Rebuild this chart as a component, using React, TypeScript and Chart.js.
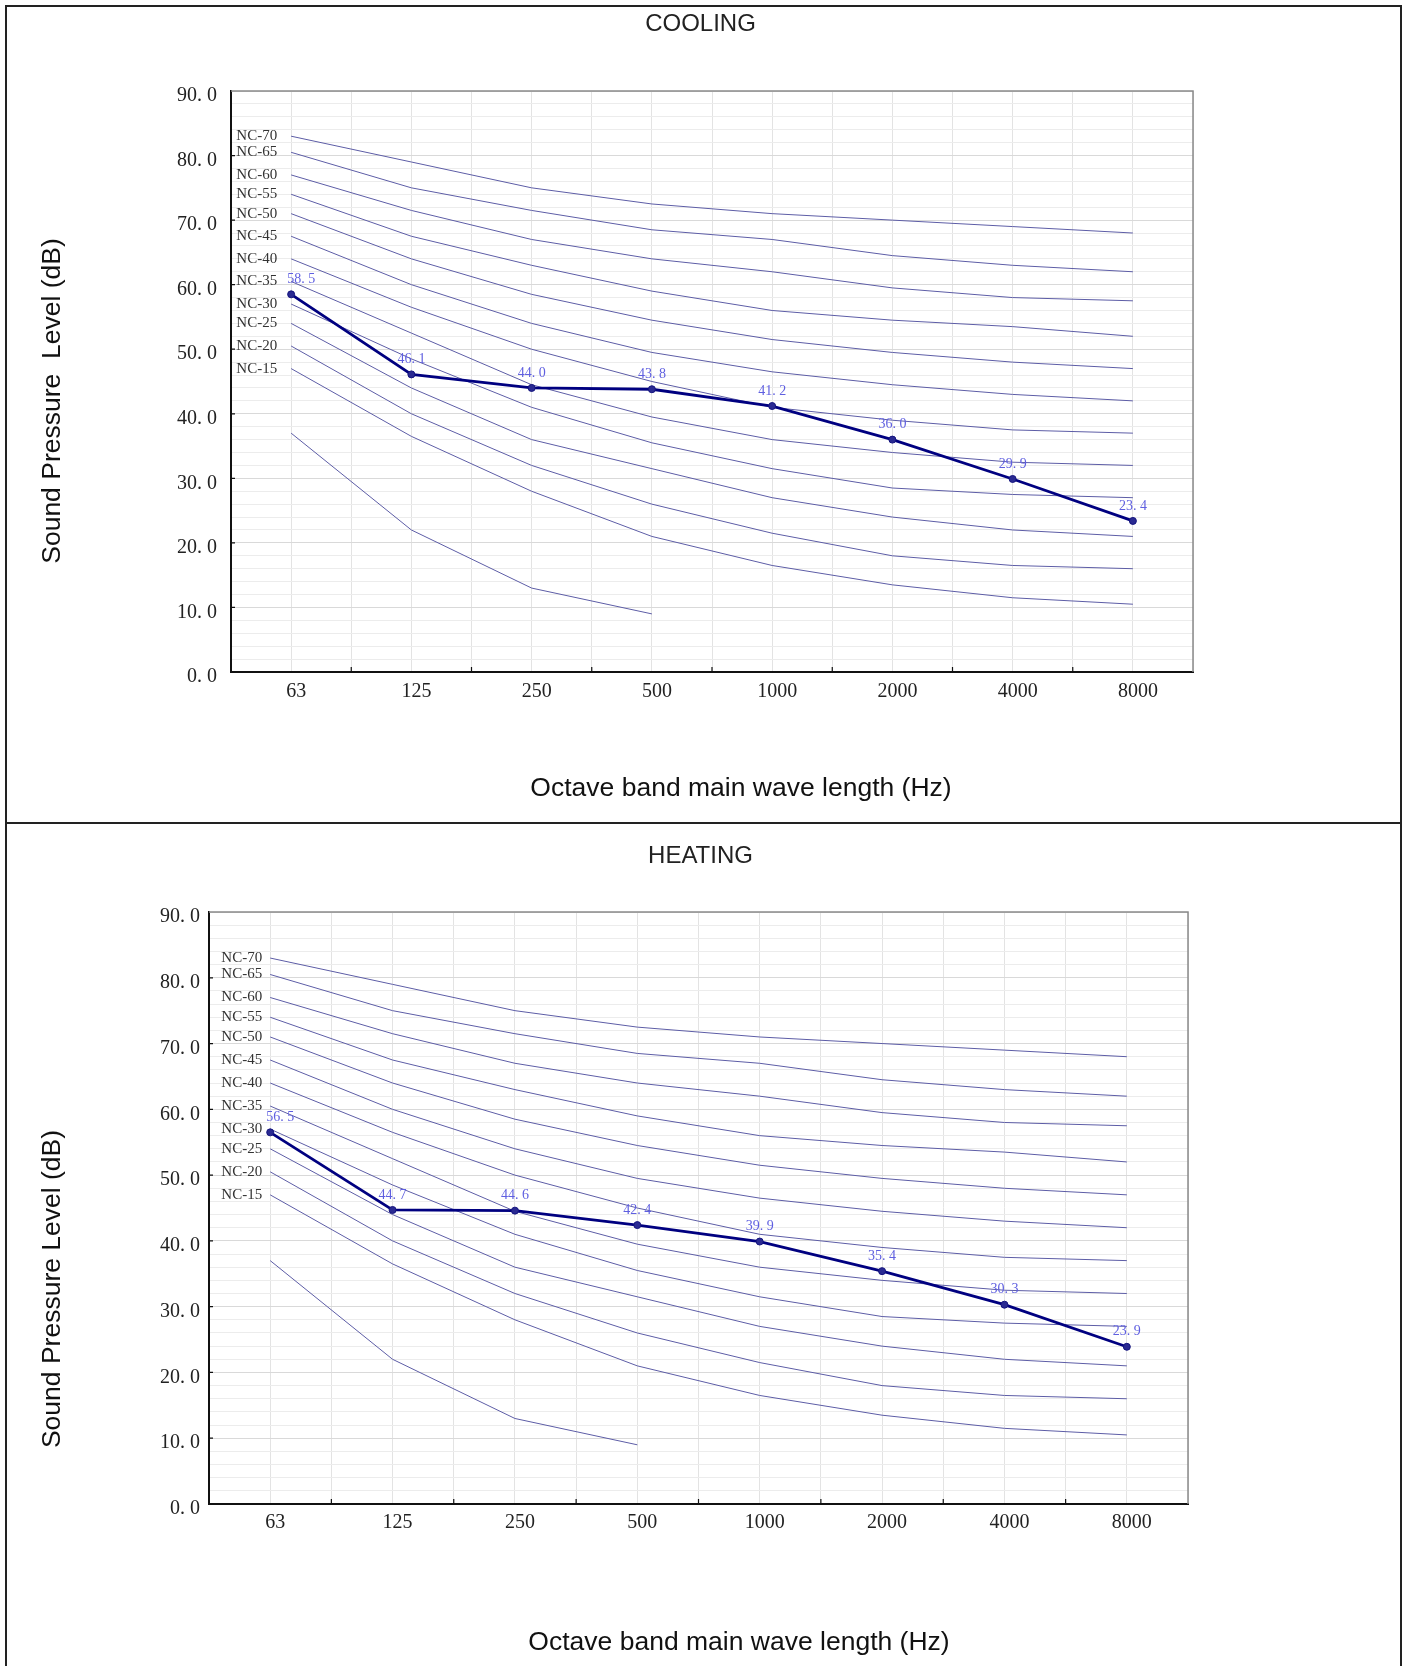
import React, { useEffect, useRef } from 'react';
import { Chart, registerables } from 'chart.js';

Chart.register(...registerables);

// ---------- data ----------
const FREQ_LABELS = ['63', '125', '250', '500', '1000', '2000', '4000', '8000'];
const Y_LABELS = ['0. 0', '10. 0', '20. 0', '30. 0', '40. 0', '50. 0', '60. 0', '70. 0', '80. 0', '90. 0'];

const NC_NAMES = ['NC-70', 'NC-65', 'NC-60', 'NC-55', 'NC-50', 'NC-45', 'NC-40', 'NC-35', 'NC-30', 'NC-25', 'NC-20', 'NC-15', ''];
const NC70 = [83, 79, 75, 72.5, 71, 70, 69, 68];
const NC65 = [80.5, 75, 71.5, 68.5, 67, 64.5, 63, 62];
const NC60 = [77, 71.5, 67, 64, 62, 59.5, 58, 57.5];
const NC55 = [74, 67.5, 63, 59, 56, 54.5, 53.5, 52];
const NC50 = [71, 64, 58.5, 54.5, 51.5, 49.5, 48, 47];
const NC45 = [67.5, 60, 54, 49.5, 46.5, 44.5, 43, 42];
const NC40 = [64, 56.5, 50, 45, 41, 39, 37.5, 37];
const NC35 = [60.5, 52.5, 44.5, 39.5, 36, 34, 32.5, 32];
const NC30 = [57, 48.5, 41, 35.5, 31.5, 28.5, 27.5, 27];
const NC25 = [54, 44, 36, 31.5, 27, 24, 22, 21];
const NC20 = [50.5, 40, 32, 26, 21.5, 18, 16.5, 16];
const NC15 = [47, 36.5, 28, 21, 16.5, 13.5, 11.5, 10.5];
const NC_LOW = [37, 22, 13, 9, null, null, null, null];
const NC_SERIES = [NC70, NC65, NC60, NC55, NC50, NC45, NC40, NC35, NC30, NC25, NC20, NC15, NC_LOW];

const COOLING = [58.5, 46.1, 44.0, 43.8, 41.2, 36.0, 29.9, 23.4];
const HEATING = [56.5, 44.7, 44.6, 42.4, 39.9, 35.4, 30.3, 23.9];

// ---------- styling / layout ----------
const SERIF = '"Liberation Serif", "Times New Roman", serif';
const SANS = '"Liberation Sans", Arial, sans-serif';
const NC_COLOR = '#5d5da6';

const COOL_CFG = {
  title: 'COOLING',
  values: COOLING,
  width: 1393,
  height: 815,
  yAxisWidth: 224,
  xAxisHeight: 150,
  rightSpace: 207,
  padRight: 6,
  titlePadTop: 2.6,
  titlePadBottom: 52.6,
  yTickPad: 14,
  xTickPad: 8,
  ncGap: 14,
  yTitle: 'Sound Pressure  Level (dB)',
  yTitlePos: [46, 394],
  xTitle: 'Octave band main wave length (Hz)',
  xTitlePos: [734, 782],
};

const HEAT_CFG = {
  title: 'HEATING',
  values: HEATING,
  width: 1393,
  height: 842,
  yAxisWidth: 202,
  xAxisHeight: 162,
  rightSpace: 212,
  padRight: 6,
  titlePadTop: 17.6,
  titlePadBottom: 41.6,
  yTickPad: 9,
  xTickPad: 7,
  ncGap: 8,
  yTitle: 'Sound Pressure Level (dB)',
  yTitlePos: [46, 465],
  xTitle: 'Octave band main wave length (Hz)',
  xTitlePos: [732, 819],
};

function NCChart({ cfg, left, top }: { cfg: any; left: number; top: number }) {
  const ref = useRef<HTMLCanvasElement>(null);

  useEffect(() => {
    const canvas = ref.current;
    if (!canvas) return;

    const ncDatasets = NC_SERIES.map((vals, i) => ({
      label: NC_NAMES[i] || 'NC-low',
      data: vals.map((v, j) => ({ x: j, y: v })),
      borderColor: NC_COLOR,
      borderWidth: 1,
      pointRadius: 0,
      fill: false,
      tension: 0,
      spanGaps: false,
    }));

    const mainDataset = {
      label: cfg.title,
      data: cfg.values.map((v: number, j: number) => ({ x: j, y: v })),
      borderColor: '#000080',
      borderWidth: 2.8,
      pointRadius: 3.5,
      pointBackgroundColor: '#2a2a92',
      pointBorderColor: '#14147e',
      pointBorderWidth: 1,
      fill: false,
      tension: 0,
    };

    const overlay = {
      id: 'overlay',
      afterDatasetsDraw(chart: any) {
        const { ctx, chartArea: a } = chart;
        const x = chart.scales.x;
        const y = chart.scales.y;
        ctx.save();
        // top / right frame
        ctx.strokeStyle = '#8a8a8a';
        ctx.lineWidth = 1.5;
        ctx.beginPath();
        ctx.moveTo(a.left, a.top);
        ctx.lineTo(a.right, a.top);
        ctx.lineTo(a.right, a.bottom);
        ctx.stroke();
        // inner tick marks
        ctx.strokeStyle = '#111';
        ctx.lineWidth = 1.2;
        ctx.beginPath();
        for (let k = 0; k < FREQ_LABELS.length - 1; k++) {
          const px = x.getPixelForValue(k + 0.5);
          ctx.moveTo(px, a.bottom);
          ctx.lineTo(px, a.bottom - 5);
        }
        for (let k = 1; k < Y_LABELS.length - 1; k++) {
          const py = y.getPixelForValue(k * 10);
          ctx.moveTo(a.left, py);
          ctx.lineTo(a.left + 4, py);
        }
        ctx.stroke();
        // NC curve labels
        ctx.font = '15px ' + SERIF;
        ctx.fillStyle = '#333';
        ctx.textAlign = 'right';
        ctx.textBaseline = 'middle';
        NC_SERIES.forEach((vals, i) => {
          if (!NC_NAMES[i]) return;
          ctx.fillText(NC_NAMES[i], x.getPixelForValue(0) - cfg.ncGap, y.getPixelForValue(vals[0] as number));
        });
        // data labels
        const meta = chart.getDatasetMeta(0);
        ctx.font = '14px ' + SERIF;
        ctx.fillStyle = '#5f5fe0';
        ctx.textAlign = 'center';
        ctx.textBaseline = 'middle';
        meta.data.forEach((pt: any, i: number) => {
          const txt = (cfg.values[i] as number).toFixed(1).replace('.', '. ');
          const dx = i === 0 ? 10 : 0;
          ctx.fillText(txt, pt.x + dx, pt.y - 15);
        });
        // axis titles
        ctx.font = '26.5px ' + SANS;
        ctx.fillStyle = '#111';
        ctx.textAlign = 'center';
        ctx.textBaseline = 'middle';
        ctx.fillText(cfg.xTitle, cfg.xTitlePos[0], cfg.xTitlePos[1]);
        ctx.translate(cfg.yTitlePos[0], cfg.yTitlePos[1]);
        ctx.rotate(-Math.PI / 2);
        ctx.fillText(cfg.yTitle, 0, 0);
        ctx.restore();
      },
    };

    const chart = new Chart(canvas, {
      type: 'line',
      data: { datasets: [mainDataset, ...ncDatasets] as any },
      options: {
        animation: false,
        responsive: false,
        maintainAspectRatio: false,
        devicePixelRatio: 1,
        layout: { padding: { left: 0, top: 0, right: cfg.padRight, bottom: 0 } },
        plugins: {
          legend: { display: false },
          tooltip: { enabled: false },
          title: {
            display: true,
            text: cfg.title,
            color: '#222',
            font: { family: SANS, size: 24, weight: 'normal', lineHeight: 1.2 },
            padding: { top: cfg.titlePadTop, bottom: cfg.titlePadBottom },
          },
        },
        scales: {
          x: {
            type: 'linear',
            position: 'bottom',
            min: -0.5,
            max: 7.5,
            afterFit: (s: any) => {
              s.height = cfg.xAxisHeight;
            },
            ticks: {
              stepSize: 0.5,
              autoSkip: false,
              maxRotation: 0,
              minRotation: 0,
              padding: cfg.xTickPad,
              labelOffset: 5,
              color: '#222',
              font: { family: SERIF, size: 20 },
              callback: (v: any) => (Number.isInteger(v) ? FREQ_LABELS[v] : ''),
            },
            grid: { color: '#e3e3e3', lineWidth: 1, drawTicks: false },
            border: { color: '#111', width: 2 },
          },
          y: {
            type: 'linear',
            min: 0,
            max: 90,
            afterFit: (s: any) => {
              s.width = cfg.yAxisWidth;
            },
            ticks: {
              stepSize: 2,
              autoSkip: false,
              padding: cfg.yTickPad,
              labelOffset: 5,
              color: '#222',
              font: { family: SERIF, size: 20 },
              callback: (v: any) => (v % 10 === 0 ? Y_LABELS[v / 10] : ''),
            },
            grid: {
              color: (c: any) => (c.tick && c.tick.value % 10 === 0 ? '#d9d9d9' : '#ececec'),
              lineWidth: 1,
              drawTicks: false,
            },
            border: { color: '#111', width: 2 },
          },
          yRight: {
            type: 'linear',
            position: 'right',
            min: 0,
            max: 90,
            display: true,
            afterFit: (s: any) => {
              s.width = cfg.rightSpace - cfg.padRight;
            },
            ticks: { display: false },
            grid: { display: false, drawTicks: false },
            border: { display: false },
          },
        },
      } as any,
      plugins: [overlay],
    });

    return () => chart.destroy();
  }, [cfg]);

  return (
    <canvas
      ref={ref}
      width={cfg.width}
      height={cfg.height}
      style={{ position: 'absolute', left, top, width: cfg.width, height: cfg.height, display: 'block' }}
    />
  );
}

export default function App() {
  return (
    <div
      style={{
        position: 'absolute',
        left: 0,
        top: 0,
        width: 1403,
        height: 1666,
        overflow: 'hidden',
        background: '#fff',
      }}
    >
      <div
        style={{
          position: 'absolute',
          left: 5,
          top: 5,
          width: 1397,
          height: 1700,
          border: '2px solid #222',
          boxSizing: 'border-box',
        }}
      />
      <div style={{ position: 'absolute', left: 5, top: 822, width: 1397, height: 2, background: '#222' }} />
      <NCChart cfg={COOL_CFG} left={7} top={7} />
      <NCChart cfg={HEAT_CFG} left={7} top={824} />
    </div>
  );
}
